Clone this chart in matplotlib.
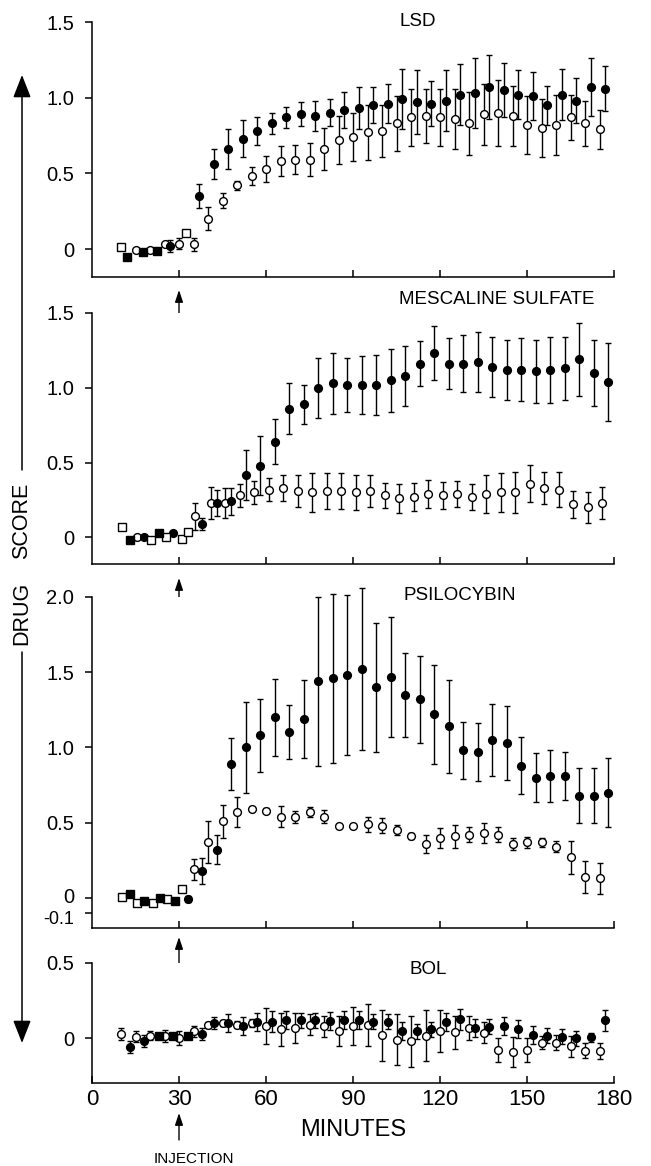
import numpy as np
from matplotlib import pyplot as plt
from matplotlib import transforms
from matplotlib.patches import FancyArrowPatch

plt.rcParams['font.family'] = ['Liberation Sans', 'DejaVu Sans']

# ---- LSD ----
lsd_open_t = [15, 20, 25, 30, 35, 40, 45, 50, 55, 60, 65, 70, 75, 80, 85, 90, 95, 100, 105, 110, 115,
              120, 125, 130, 135, 140, 145, 150, 155, 160, 165, 170, 175]
lsd_open_v = [-0.005, -0.005, 0.03, 0.035, 0.03, 0.20, 0.32, 0.42, 0.48, 0.53, 0.58, 0.59, 0.59, 0.66,
              0.72, 0.74, 0.77, 0.78, 0.83, 0.87, 0.88, 0.87, 0.86, 0.83, 0.89, 0.90, 0.88, 0.82, 0.80,
              0.82, 0.87, 0.83, 0.79]
lsd_open_e = [0, 0, 0, 0.035, 0.04, 0.075, 0.05, 0.03, 0.06, 0.085, 0.10, 0.095, 0.11, 0.14, 0.16,
              0.16, 0.18, 0.17, 0.18, 0.19, 0.18, 0.19, 0.20, 0.21, 0.20, 0.22, 0.20, 0.19, 0.19, 0.20,
              0.15, 0.15, 0.13]
lsd_fill_t = [27, 37, 42, 47, 52, 57, 62, 67, 72, 77, 82, 87, 92, 97, 102, 107, 112, 117, 122, 127,
              132, 137, 142, 147, 152, 157, 162, 167, 172, 177]
lsd_fill_v = [0.018, 0.35, 0.56, 0.66, 0.73, 0.78, 0.83, 0.87, 0.89, 0.88, 0.90, 0.92, 0.93, 0.95,
              0.96, 0.99, 0.97, 0.96, 0.98, 1.02, 1.03, 1.07, 1.05, 1.02, 1.01, 0.95, 1.02, 0.98,
              1.07, 1.06]
lsd_fill_e = [0.04, 0.08, 0.10, 0.13, 0.12, 0.095, 0.07, 0.07, 0.08, 0.10, 0.09, 0.12, 0.14, 0.12,
              0.13, 0.20, 0.21, 0.15, 0.20, 0.20, 0.23, 0.21, 0.18, 0.16, 0.16, 0.13, 0.17, 0.15,
              0.19, 0.15]
lsd_osq_t = [10, 32.5]
lsd_osq_v = [0.013, 0.107]
lsd_fsq_t = [12, 17.5, 22.5]
lsd_fsq_v = [-0.05, -0.022, -0.015]

# ---- MESCALINE SULFATE ----
mes_open_t = [15.5, 35.5, 41, 46, 51, 56, 61, 66, 71, 76, 81, 86, 91, 96, 101, 106, 111, 116, 121,
              126, 131, 136, 141, 146, 151, 156, 161, 166, 171, 176]
mes_open_v = [0.0, 0.14, 0.23, 0.23, 0.28, 0.30, 0.32, 0.33, 0.31, 0.30, 0.31, 0.31, 0.30, 0.31,
              0.28, 0.26, 0.27, 0.29, 0.28, 0.29, 0.27, 0.29, 0.30, 0.30, 0.36, 0.33, 0.32, 0.22,
              0.20, 0.23]
mes_open_e = [0, 0.09, 0.105, 0.10, 0.08, 0.075, 0.08, 0.085, 0.11, 0.13, 0.12, 0.12, 0.12, 0.11,
              0.085, 0.10, 0.095, 0.095, 0.09, 0.09, 0.085, 0.125, 0.13, 0.135, 0.125, 0.11, 0.12,
              0.09, 0.105, 0.11]
mes_fill_t = [18, 28, 38, 43, 48, 53, 58, 63, 68, 73, 78, 83, 88, 93, 98, 103, 108, 113, 118, 123,
              128, 133, 138, 143, 148, 153, 158, 163, 168, 173, 178]
mes_fill_v = [0.0, 0.027, 0.09, 0.23, 0.24, 0.42, 0.48, 0.64, 0.86, 0.89, 1.00, 1.03, 1.02, 1.02,
              1.02, 1.05, 1.08, 1.16, 1.23, 1.16, 1.16, 1.17, 1.14, 1.12, 1.12, 1.11, 1.12, 1.13,
              1.19, 1.10, 1.04]
mes_fill_e = [0, 0, 0.04, 0.09, 0.09, 0.167, 0.2, 0.15, 0.17, 0.13, 0.2, 0.205, 0.18, 0.195, 0.2,
              0.21, 0.2, 0.15, 0.18, 0.17, 0.19, 0.2, 0.2, 0.2, 0.21, 0.21, 0.22, 0.21, 0.245, 0.22,
              0.26]
mes_osq_t = [10.5, 20.5, 25.5, 31, 33]
mes_osq_v = [0.07, -0.02, 0.0, -0.01, 0.035]
mes_fsq_t = [13, 23]
mes_fsq_v = [-0.02, 0.027]

# ---- PSILOCYBIN ----
psi_open_t = [35, 40, 45, 50, 55, 60, 65, 70, 75, 80, 85, 90, 95, 100, 105, 110, 115, 120, 125, 130,
              135, 140, 145, 150, 155, 160, 165, 170, 175]
psi_open_v = [0.19, 0.37, 0.51, 0.57, 0.59, 0.58, 0.54, 0.54, 0.57, 0.54, 0.48, 0.48, 0.49, 0.48,
              0.45, 0.41, 0.36, 0.40, 0.41, 0.42, 0.43, 0.42, 0.36, 0.37, 0.37, 0.34, 0.27, 0.14, 0.13]
psi_open_e = [0.07, 0.14, 0.11, 0.1, 0.015, 0.015, 0.07, 0.04, 0.035, 0.045, 0.01, 0.01, 0.05, 0.05,
              0.035, 0.02, 0.06, 0.065, 0.075, 0.05, 0.065, 0.05, 0.04, 0.035, 0.03, 0.035, 0.11,
              0.105, 0.105]
psi_fill_t = [33, 38, 43, 48, 53, 58, 63, 68, 73, 78, 83, 88, 93, 98, 103, 108, 113, 118, 123, 128,
              133, 138, 143, 148, 153, 158, 163, 168, 173, 178]
psi_fill_v = [-0.01, 0.18, 0.32, 0.89, 1.00, 1.08, 1.20, 1.10, 1.19, 1.44, 1.46, 1.48, 1.52, 1.40,
              1.47, 1.35, 1.32, 1.22, 1.14, 0.98, 0.97, 1.05, 1.03, 0.88, 0.80, 0.81, 0.81, 0.68,
              0.68, 0.70]
psi_fill_e = [0.02, 0.085, 0.095, 0.175, 0.3, 0.24, 0.255, 0.18, 0.26, 0.56, 0.56, 0.53, 0.54, 0.43,
              0.4, 0.28, 0.29, 0.33, 0.31, 0.19, 0.19, 0.24, 0.245, 0.19, 0.165, 0.17, 0.16, 0.185,
              0.185, 0.23]
psi_osq_t = [10.5, 15.5, 21, 26, 31]
psi_osq_v = [0.007, -0.033, -0.033, -0.007, 0.06]
psi_fsq_t = [13, 18, 23.5, 28.5]
psi_fsq_v = [0.029, -0.022, 0.0, -0.022]

# ---- BOL ----
bol_open_t = [10, 15, 20, 25, 30, 35, 40, 45, 50, 55, 60, 65, 70, 75, 80, 85, 90, 95, 100, 105, 110,
              115, 120, 125, 130, 135, 140, 145, 150, 155, 160, 165, 170, 175]
bol_open_v = [0.03, 0.01, 0.015, 0.015, 0.0, 0.045, 0.09, 0.10, 0.09, 0.10, 0.08, 0.06, 0.07, 0.09,
              0.08, 0.05, 0.08, 0.09, 0.02, -0.01, -0.02, 0.015, 0.045, 0.04, 0.065, 0.035, -0.08,
              -0.09, -0.08, -0.03, -0.03, -0.055, -0.085, -0.085]
bol_open_e = [0.04, 0.035, 0.03, 0.04, 0.045, 0.035, 0.02, 0.02, 0.025, 0.025, 0.12, 0.11, 0.10,
              0.07, 0.07, 0.10, 0.125, 0.14, 0.17, 0.17, 0.17, 0.17, 0.14, 0.11, 0.08, 0.07, 0.08,
              0.10, 0.08, 0.045, 0.05, 0.07, 0.05, 0.055]
bol_fill_t = [13, 18, 38, 42, 47, 52, 57, 62, 67, 72, 77, 82, 87, 92, 97, 102, 107, 112, 117, 122,
              127, 132, 137, 142, 147, 152, 157, 162, 167, 172, 177]
bol_fill_v = [-0.06, -0.02, 0.03, 0.10, 0.10, 0.08, 0.11, 0.11, 0.12, 0.12, 0.12, 0.115, 0.12, 0.12,
              0.11, 0.11, 0.05, 0.045, 0.06, 0.105, 0.125, 0.065, 0.075, 0.08, 0.06, 0.02, 0.015,
              0.01, 0.0, 0.005, 0.12]
bol_fill_e = [0.04, 0.04, 0.04, 0.04, 0.06, 0.06, 0.06, 0.07, 0.06, 0.05, 0.05, 0.06, 0.06, 0.06,
              0.05, 0.05, 0.06, 0.05, 0.05, 0.06, 0.07, 0.06, 0.05, 0.06, 0.06, 0.06, 0.05, 0.05,
              0.05, 0.03, 0.07]
bol_osq_t = []
bol_osq_v = []
bol_fsq_t = [23, 28, 33]
bol_fsq_v = [0.015, 0.015, 0.015]

W, H = 651, 1166


def fx(px):
    return px / W


def fy(py):
    return 1 - py / H


panels = [
    # title, top px, bottom px, ylim, yticks, labels, title pos, arrow (tip, tail) px below axis
    ('LSD', 22, 277, (-0.185, 1.5), [0, 0.5, 1.0, 1.5], ['0', '0.5', '1.0', '1.5'], (106, 1.50), (13, 38),
     lsd_open_t, lsd_open_v, lsd_open_e, lsd_fill_t, lsd_fill_v, lsd_fill_e,
     lsd_osq_t, lsd_osq_v, lsd_fsq_t, lsd_fsq_v),
    ('MESCALINE SULFATE', 313, 564, (-0.178, 1.5), [0, 0.5, 1.0, 1.5], ['0', '0.5', '1.0', '1.5'], (106, 1.59), (14, 41),
     mes_open_t, mes_open_v, mes_open_e, mes_fill_t, mes_fill_v, mes_fill_e,
     mes_osq_t, mes_osq_v, mes_fsq_t, mes_fsq_v),
    ('PSILOCYBIN', 597, 928, (-0.2, 2.0), [-0.1, 0, 0.5, 1.0, 1.5, 2.0], ['-0.1', '0', '0.5', '1.0', '1.5', '2.0'], (107.5, 2.01), (9, 35),
     psi_open_t, psi_open_v, psi_open_e, psi_fill_t, psi_fill_v, psi_fill_e,
     psi_osq_t, psi_osq_v, psi_fsq_t, psi_fsq_v),
    ('BOL', 963, 1083, (-0.3, 0.5), [0, 0.5], ['0', '0.5'], (109.5, 0.455), (30, 57),
     bol_open_t, bol_open_v, bol_open_e, bol_fill_t, bol_fill_v, bol_fill_e,
     bol_osq_t, bol_osq_v, bol_fsq_t, bol_fsq_v),
]

fig = plt.figure(figsize=(W / 100, H / 100), dpi=100)
left_px, right_px = 92, 614
ms = 5.6

for i, p in enumerate(panels):
    (title, top, bot, ylim, yticks, ylabels, tpos, arr,
     ot, ov, oe, ft, fv, fe, qt, qv, st, sv) = p
    ax = fig.add_axes([fx(left_px), fy(bot), fx(right_px - left_px), (bot - top) / H])
    ax.set_xlim(0, 180)
    ax.set_ylim(*ylim)
    for s in ['top', 'right']:
        ax.spines[s].set_visible(False)
    for s in ['left', 'bottom']:
        ax.spines[s].set_linewidth(1.1)
    ax.set_yticks(yticks)
    ax.set_yticklabels(ylabels)
    ax.tick_params(axis='y', direction='out', length=5, width=1.1, pad=8, labelsize=14.5)
    if title == 'PSILOCYBIN':
        # "0" and "-0.1" sit tight together, nudge them apart a little
        lbls = ax.get_yticklabels()
        lbls[0].set_fontsize(13)
        lbls[0].set_transform(lbls[0].get_transform() + transforms.ScaledTranslation(0, -3 / 72, fig.dpi_scale_trans))
        lbls[1].set_transform(lbls[1].get_transform() + transforms.ScaledTranslation(0, 2 / 72, fig.dpi_scale_trans))
    last = i == len(panels) - 1
    if last:
        ax.set_xticks([0, 30, 60, 90, 120, 150, 180])
        ax.tick_params(axis='x', direction='in', length=5, width=1.1, pad=4, labelsize=16)
    else:
        ax.set_xticks([30, 60, 90, 120, 150, 180])
        ax.tick_params(axis='x', direction='in', length=5, width=1.1, labelbottom=False)

    for t, v, e, face in [(ot, ov, oe, 'white'), (ft, fv, fe, 'black')]:
        eb = ax.errorbar(t, v, yerr=e, fmt='none', ecolor='black', elinewidth=1.0,
                         capsize=2.4, capthick=1.0, zorder=2)
        for art in eb.get_children():
            art.set_clip_on(False)
        ax.plot(t, v, 'o', ms=ms, mfc=face, mec='black', mew=1.0, zorder=3, clip_on=False)
    ax.plot(qt, qv, 's', ms=ms - 0.5, mfc='white', mec='black', mew=1.0, zorder=3)
    ax.plot(st, sv, 's', ms=ms - 0.5, mfc='black', mec='black', mew=1.0, zorder=3)

    ax.text(tpos[0], tpos[1], title, ha='left', va='center', fontsize=13.5, clip_on=False)

    # injection arrow under each panel
    tip, tail = arr
    ax.annotate('', xy=(30, 0), xycoords=ax.get_xaxis_transform(),
                xytext=(0, -tail * 0.72), textcoords='offset points',
                arrowprops=dict(arrowstyle='-|>,head_length=0.9,head_width=0.3', color='black',
                                lw=1.0, shrinkA=0, shrinkB=tip * 0.72, mutation_scale=8))
    if last:
        ax.annotate('INJECTION', xy=(30, 0), xycoords=ax.get_xaxis_transform(),
                    xytext=(11, -76 * 0.72), textcoords='offset points',
                    ha='center', va='center', fontsize=11)
        ax.annotate('MINUTES', xy=(90, 0), xycoords=ax.get_xaxis_transform(),
                    xytext=(0, -47 * 0.72), textcoords='offset points',
                    ha='center', va='center', fontsize=17)

# DRUG SCORE axis with long arrows
fig.text(fx(22), fy(521), 'SCORE', rotation=90, ha='center', va='center', fontsize=15.5)
fig.text(fx(22), fy(613), 'DRUG', rotation=90, ha='center', va='center', fontsize=15.5)
for start, end in [(470, 75), (652, 1043)]:
    fig.add_artist(FancyArrowPatch(
        (fx(22), fy(start)), (fx(22), fy(end)), transform=fig.transFigure,
        arrowstyle='-|>,head_length=1.4,head_width=0.55', mutation_scale=10,
        color='black', lw=1.1, shrinkA=0, shrinkB=0))

fig.savefig('out.png', dpi=100)
